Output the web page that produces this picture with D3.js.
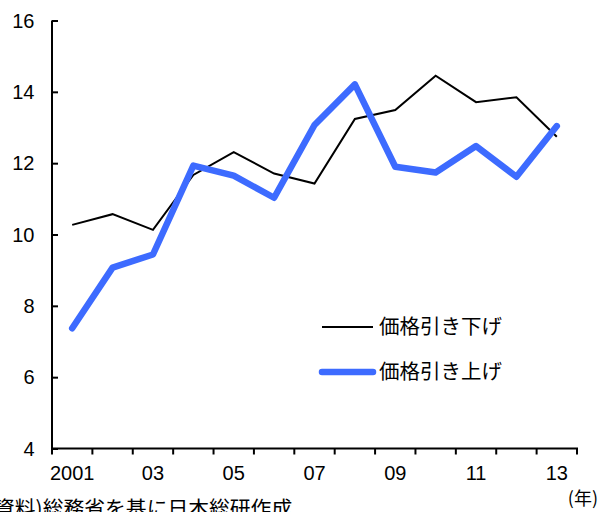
<!DOCTYPE html>
<html>
<head>
<meta charset="utf-8">
<script src="https://cdn.jsdelivr.net/npm/d3@7"></script>
<style>
  body { margin: 0; background: #fff; }
  svg { display: block; font-family: "Liberation Sans Narrow", "Liberation Sans", sans-serif; }
  .jp { font-family: "Noto Sans CJK JP", sans-serif; }
</style>
</head>
<body>
<div id="chart"></div>
<script>
// years and series
var years = [2001, 2002, 2003, 2004, 2005, 2006, 2007, 2008, 2009, 2010, 2011, 2012, 2013];
var priceDown = [10.27, 10.57, 10.13, 11.67, 12.31, 11.71, 11.43, 13.24, 13.49, 14.45, 13.71, 13.85, 12.74];
var priceUp = [7.37, 9.07, 9.44, 11.93, 11.65, 11.03, 13.07, 14.21, 11.90, 11.74, 12.48, 11.62, 13.04];
var yTicks = [4, 6, 8, 10, 12, 14, 16];
var xLabels = {2001: '2001', 2003: '03', 2005: '05', 2007: '07', 2009: '09', 2011: '11', 2013: '13'};
var seriesNames = ['価格引き下げ', '価格引き上げ'];

var width = 605, height = 512;
var mLeft = 52, mRight = 577, mTop = 20.5, mBottom = 448.5;

var svg = d3.select('#chart').append('svg')
    .attr('width', width)
    .attr('height', height);

var x = d3.scaleBand().domain(years).range([mLeft, mRight]);
var y = d3.scaleLinear().domain([4, 16]).range([mBottom, mTop]);

// y axis, ticks pointing inward
var yAxis = svg.append('g')
    .attr('transform', 'translate(' + mLeft + ',0)')
    .call(d3.axisRight(y).tickValues(yTicks).tickSize(6).tickFormat(''));
yAxis.select('.domain').attr('d', 'M0,' + mTop + 'V' + mBottom).attr('stroke-width', 2);
yAxis.selectAll('.tick line').attr('stroke-width', 2);

svg.selectAll('.ylab')
    .data(yTicks).enter().append('text')
    .attr('class', 'ylab')
    .attr('x', 34.5)
    .attr('y', function(d) { return y(d); })
    .attr('dy', '0.36em')
    .attr('text-anchor', 'end')
    .attr('font-size', 20)
    .text(function(d) { return d; });

// x axis, ticks at band edges pointing down
var edges = years.map(function(d) { return x(d); }).concat([mRight]);
svg.append('line')
    .attr('x1', mLeft - 1).attr('x2', mRight + 1)
    .attr('y1', mBottom).attr('y2', mBottom)
    .attr('stroke', '#000').attr('stroke-width', 2);
svg.selectAll('.xtick')
    .data(edges).enter().append('line')
    .attr('class', 'xtick')
    .attr('x1', function(d) { return d; }).attr('x2', function(d) { return d; })
    .attr('y1', mBottom).attr('y2', mBottom + 6)
    .attr('stroke', '#000').attr('stroke-width', 2);

svg.selectAll('.xlab')
    .data(years.filter(function(d) { return xLabels[d]; })).enter().append('text')
    .attr('class', 'xlab')
    .attr('x', function(d) { return x(d) + x.bandwidth() / 2; })
    .attr('y', 479.5)
    .attr('text-anchor', 'middle')
    .attr('font-size', 20)
    .text(function(d) { return xLabels[d]; });

var cx = function(d, i) { return x(years[i]) + x.bandwidth() / 2; };
var line = d3.line().x(cx).y(function(d) { return y(d); });

svg.append('path')
    .datum(priceDown)
    .attr('d', line)
    .attr('fill', 'none')
    .attr('stroke', '#000')
    .attr('stroke-width', 2);

svg.append('path')
    .datum(priceUp)
    .attr('d', line)
    .attr('fill', 'none')
    .attr('stroke', '#3d6bff')
    .attr('stroke-width', 6.5)
    .attr('stroke-linejoin', 'round')
    .attr('stroke-linecap', 'round');

// legend
var legend = [
  {name: seriesNames[0], color: '#000', w: 2, y: 327, x1: 322, x2: 373},
  {name: seriesNames[1], color: '#3d6bff', w: 6.5, y: 372, x1: 322, x2: 373}
];
var lg = svg.selectAll('.legend').data(legend).enter().append('g').attr('class', 'legend');
lg.append('line')
    .attr('x1', function(d) { return d.x1; }).attr('x2', function(d) { return d.x2; })
    .attr('y1', function(d) { return d.y; }).attr('y2', function(d) { return d.y; })
    .attr('stroke', function(d) { return d.color; })
    .attr('stroke-width', function(d) { return d.w; })
    .attr('stroke-linecap', function(d) { return d.w > 2 ? 'round' : 'butt'; });
lg.append('text')
    .attr('class', 'jp')
    .attr('x', 379)
    .attr('y', function(d) { return d.y; })
    .attr('dy', '0.36em')
    .attr('font-size', 20.5)
    .text(function(d) { return d.name; });

svg.append('text')
    .attr('class', 'jp')
    .attr('x', 598).attr('y', 505)
    .attr('text-anchor', 'end')
    .attr('font-size', 18)
    .text('(年)');

svg.append('text')
    .attr('class', 'jp')
    .attr('x', -13).attr('y', 516)
    .attr('font-size', 20.8)
    .text('(資料)総務省を基に日本総研作成');
</script>
</body>
</html>
